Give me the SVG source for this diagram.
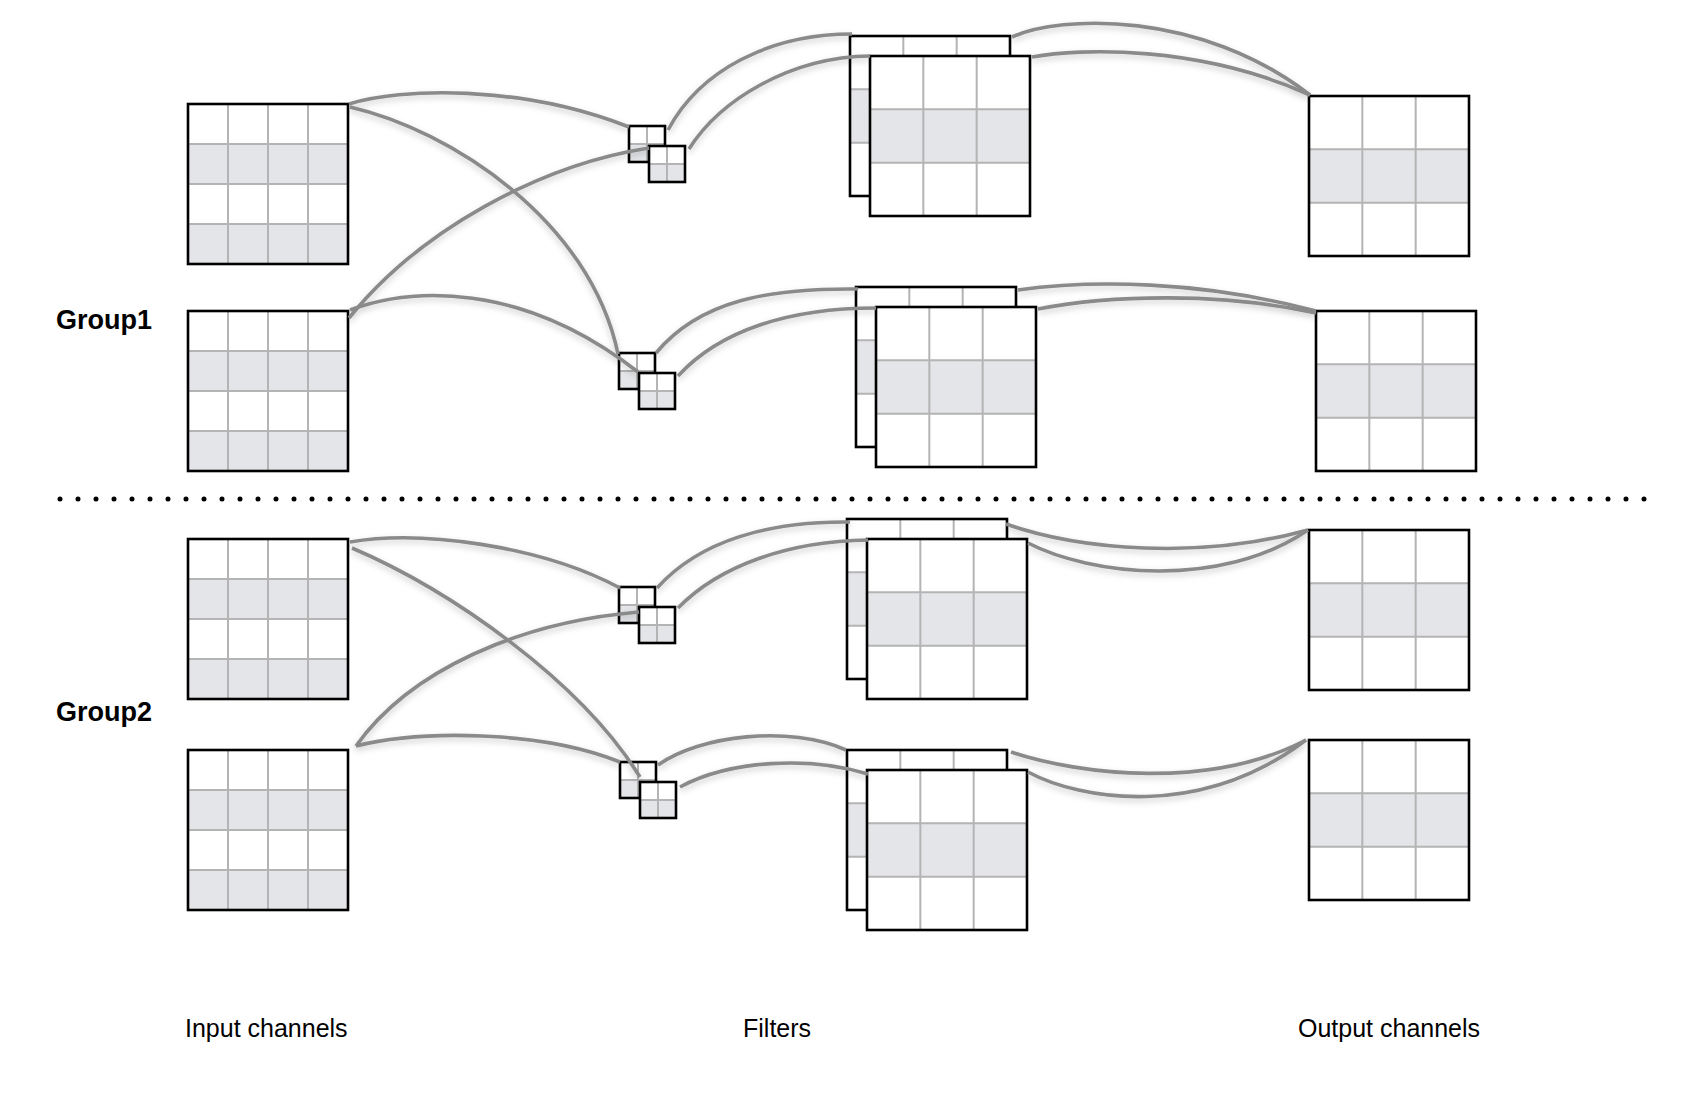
<svg xmlns="http://www.w3.org/2000/svg" xmlns:xlink="http://www.w3.org/1999/xlink" width="1696" height="1100" viewBox="0 0 1696 1100">
  <style>
    .shade { fill: #e4e5e8; }
    .grid { stroke: #b4b4b4; stroke-width: 2; fill: none; }
    .frame { fill: none; stroke: #000; stroke-width: 2.6; }
    .bg { fill: #fff; }
    .conn { fill: none; stroke: #8a8a8a; stroke-width: 3.6; stroke-linecap: butt; }
    .label { font-family: "Liberation Sans", Arial, sans-serif; font-size: 25px; fill: #000; }
    .group { font-family: "Liberation Sans", Arial, sans-serif; font-size: 27px; font-weight: bold; fill: #000; }
  </style>
  <defs>
    <filter id="shadow" filterUnits="userSpaceOnUse" x="0" y="0" width="1696" height="1100">
      <feDropShadow dx="0" dy="3" stdDeviation="3" flood-color="#000" flood-opacity="0.2"/>
    </filter>
    <g id="grid4">
      <rect class="bg" x="0" y="0" width="160" height="160"/>
      <rect class="shade" x="0" y="40" width="160" height="40"/>
      <rect class="shade" x="0" y="120" width="160" height="40"/>
      <path class="grid" d="M40,0V160M80,0V160M120,0V160M0,40H160M0,80H160M0,120H160"/>
      <rect class="frame" x="0" y="0" width="160" height="160"/>
    </g>
    <g id="grid3">
      <rect class="bg" x="0" y="0" width="160" height="160"/>
      <rect class="shade" x="0" y="53.33" width="160" height="53.33"/>
      <path class="grid" d="M53.33,0V160M106.67,0V160M0,53.33H160M0,106.67H160"/>
      <rect class="frame" x="0" y="0" width="160" height="160"/>
    </g>
    <g id="grid2">
      <rect class="bg" x="0" y="0" width="36" height="36"/>
      <rect class="shade" x="0" y="18" width="36" height="18"/>
      <path class="grid" d="M18,0V36M0,18H36"/>
      <rect class="frame" x="0" y="0" width="36" height="36"/>
    </g>
  </defs>

  <rect x="0" y="0" width="1696" height="1100" fill="#fff"/>

  <!-- Group 1 -->
  <g id="g1-input-1" transform="translate(188,104)"><use xlink:href="#grid4"/></g>
  <g id="g1-input-2" transform="translate(188,311)"><use xlink:href="#grid4"/></g>
  <g id="g1-kernel-top-a" transform="translate(629,126)"><use xlink:href="#grid2"/></g>
  <g id="g1-kernel-top-b" transform="translate(649,146)"><use xlink:href="#grid2"/></g>
  <g id="g1-kernel-bot-a" transform="translate(619,353)"><use xlink:href="#grid2"/></g>
  <g id="g1-kernel-bot-b" transform="translate(639,373)"><use xlink:href="#grid2"/></g>
  <g id="g1-filter-top-back" transform="translate(850,36)"><use xlink:href="#grid3"/></g>
  <g id="g1-filter-top-front" transform="translate(870,56)"><use xlink:href="#grid3"/></g>
  <g id="g1-filter-bot-back" transform="translate(856,287)"><use xlink:href="#grid3"/></g>
  <g id="g1-filter-bot-front" transform="translate(876,307)"><use xlink:href="#grid3"/></g>
  <g id="g1-output-1" transform="translate(1309,96)"><use xlink:href="#grid3"/></g>
  <g id="g1-output-2" transform="translate(1316,311)"><use xlink:href="#grid3"/></g>

  <!-- Group 2 -->
  <g id="g2-input-1" transform="translate(188,539)"><use xlink:href="#grid4"/></g>
  <g id="g2-input-2" transform="translate(188,750)"><use xlink:href="#grid4"/></g>
  <g id="g2-kernel-top-a" transform="translate(619,587)"><use xlink:href="#grid2"/></g>
  <g id="g2-kernel-top-b" transform="translate(639,607)"><use xlink:href="#grid2"/></g>
  <g id="g2-kernel-bot-a" transform="translate(620,762)"><use xlink:href="#grid2"/></g>
  <g id="g2-kernel-bot-b" transform="translate(640,782)"><use xlink:href="#grid2"/></g>
  <g id="g2-filter-top-back" transform="translate(847,519)"><use xlink:href="#grid3"/></g>
  <g id="g2-filter-top-front" transform="translate(867,539)"><use xlink:href="#grid3"/></g>
  <g id="g2-filter-bot-back" transform="translate(847,750)"><use xlink:href="#grid3"/></g>
  <g id="g2-filter-bot-front" transform="translate(867,770)"><use xlink:href="#grid3"/></g>
  <g id="g2-output-1" transform="translate(1309,530)"><use xlink:href="#grid3"/></g>
  <g id="g2-output-2" transform="translate(1309,740)"><use xlink:href="#grid3"/></g>

  <!-- Connectors -->
  <g id="connectors" filter="url(#shadow)">
    <!-- group 1: inputs to kernels -->
    <path class="conn" d="M349,104 C400,88 520,84 629,127"/>
    <path class="conn" d="M350,107 C450,130 590,220 618,354"/>
    <path class="conn" d="M349,318 C420,230 540,165 649,148"/>
    <path class="conn" d="M350,310 C410,288 520,280 638,372"/>
    <!-- group 1: kernels to filters -->
    <path class="conn" d="M668,130 C700,70 770,34 852,34"/>
    <path class="conn" d="M689,149 C720,100 790,57 870,56"/>
    <path class="conn" d="M656,353 C700,300 770,288 858,289"/>
    <path class="conn" d="M678,376 C720,330 790,308 876,308"/>
    <!-- group 1: filters to outputs -->
    <path class="conn" d="M1012,37 C1060,15 1200,10 1310,95"/>
    <path class="conn" d="M1032,57 C1080,48 1200,45 1310,95"/>
    <path class="conn" d="M1018,290 C1090,280 1200,280 1316,311"/>
    <path class="conn" d="M1038,309 C1110,295 1220,292 1316,313"/>
    <!-- group 2: inputs to kernels -->
    <path class="conn" d="M350,542 C420,530 540,545 620,588"/>
    <path class="conn" d="M352,548 C450,590 580,680 640,777"/>
    <path class="conn" d="M356,746 C410,670 520,622 639,612"/>
    <path class="conn" d="M356,746 C420,730 540,730 620,762"/>
    <!-- group 2: kernels to filters -->
    <path class="conn" d="M657,588 C700,540 770,521 850,522"/>
    <path class="conn" d="M678,608 C720,565 790,541 868,540"/>
    <path class="conn" d="M658,765 C700,735 790,725 846,750"/>
    <path class="conn" d="M680,787 C730,760 810,756 868,774"/>
    <!-- group 2: filters to outputs -->
    <path class="conn" d="M1006,524 C1080,550 1200,560 1308,530"/>
    <path class="conn" d="M1028,543 C1090,575 1220,590 1308,530"/>
    <path class="conn" d="M1011,752 C1080,775 1210,790 1306,740"/>
    <path class="conn" d="M1028,772 C1080,800 1200,820 1306,740"/>
  </g>

  <!-- Separator -->
  <line x1="60" y1="499" x2="1646" y2="499" stroke="#000" stroke-width="5" stroke-linecap="round" stroke-dasharray="0 18"/>

  <!-- Labels -->
  <text class="group" x="56" y="329">Group1</text>
  <text class="group" x="56" y="721">Group2</text>
  <text class="label" x="185" y="1037">Input channels</text>
  <text class="label" x="743" y="1037">Filters</text>
  <text class="label" x="1298" y="1037">Output channels</text>
</svg>
